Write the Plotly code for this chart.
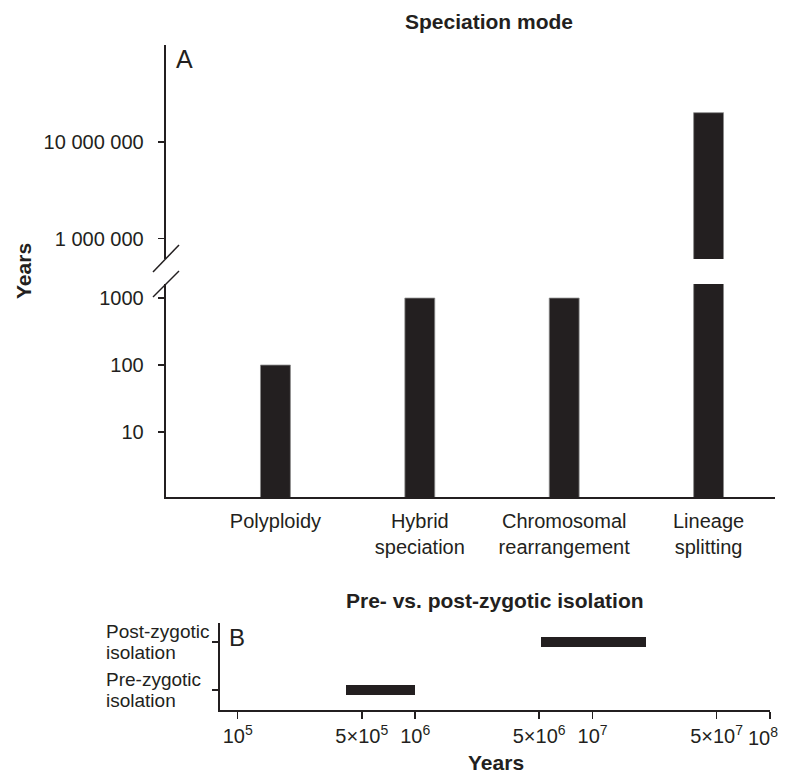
import math
import plotly.graph_objects as go

# ---- data ----
modes = ["Polyploidy", "Hybrid<br>speciation", "Chromosomal<br>rearrangement", "Lineage<br>splitting"]
mode_years = [100, 1000, 1000, 2.0e7]

upper_ticks = [1e6, 1e7]
upper_ticktext = ["1 000 000", "10 000 000"]
lower_ticks = [10, 100, 1000]
lower_ticktext = ["10", "100", "1000"]

isolation = ["Pre-zygotic<br>isolation", "Post-zygotic<br>isolation"]
iso_start = [4.1e5, 5.1e6]
iso_end = [1.0e6, 2.0e7]

b_ticks = [1e5, 5e5, 1e6, 5e6, 1e7, 5e7, 1e8]
b_ticktext = ["10<sup>5</sup>", "5×10<sup>5</sup>", "10<sup>6</sup>", "5×10<sup>6</sup>",
              "10<sup>7</sup>", "5×10<sup>7</sup>", "10<sup>8</sup>"]

# ---- layout helpers ----
# the page keeps the browser's default 8px body margin, so the figure is
# 16px smaller than the window and page coordinates are offset by 8px
OFF = 8
W, H = 788 - 2 * OFF, 778 - 2 * OFF
INK = "#231f20"
FONT = "Liberation Sans, Arial, Helvetica, sans-serif"

def px(x):
    return (x - OFF) / W

def py(y):
    return 1 - (y - OFF) / H

xpos = list(range(len(modes)))

fig = go.Figure()
bar_style = dict(marker=dict(color=INK, line=dict(color="#8a8a8a", width=0.8)),
                 width=0.207, showlegend=False, hoverinfo="skip")
# lower segment of panel A
fig.add_trace(go.Bar(x=xpos, y=mode_years, xaxis="x", yaxis="y", **bar_style))
# upper segment of panel A
fig.add_trace(go.Bar(x=xpos, y=mode_years, xaxis="x2", yaxis="y2", **bar_style))
# panel B
fig.add_trace(go.Bar(
    y=[0, 1], x=[e - s for s, e in zip(iso_start, iso_end)], base=iso_start,
    orientation="h", xaxis="x3", yaxis="y3", width=0.21,
    marker=dict(color=INK, line=dict(width=0)), showlegend=False, hoverinfo="skip"))

axis_common = dict(showline=True, linecolor=INK, linewidth=2, showgrid=False,
                   zeroline=False, tickcolor=INK, tickwidth=1.5,
                   tickfont=dict(size=20, color=INK, family=FONT))

# last tick label of panel B sits at the page edge: drawn as an annotation
b_ticktext_axis = b_ticktext[:-1] + [""]

xdomA = [px(165.7), px(775)]
fig.update_layout(
    width=W, height=H, autosize=False, margin=dict(l=0, r=0, t=0, b=0),
    paper_bgcolor="white", plot_bgcolor="white",
    font=dict(family=FONT, color=INK),
    bargap=0,
    xaxis=dict(domain=xdomA, anchor="y", range=[-0.76, 3.46], tickvals=xpos,
               ticktext=modes, ticks="", ticklabelstandoff=5, **axis_common),
    yaxis=dict(domain=[py(497), py(284)], anchor="x", type="log", range=[0.03, 3.21],
               tickvals=lower_ticks, ticktext=lower_ticktext, ticks="outside",
               ticklen=6, ticklabelstandoff=10, **axis_common),
    xaxis2=dict(domain=xdomA, anchor="y2", matches="x", visible=False,
                range=[-0.76, 3.46]),
    yaxis2=dict(domain=[py(259), py(45)], anchor="x2", type="log", range=[5.79, 8.0],
                tickvals=upper_ticks, ticktext=upper_ticktext, ticks="outside",
                ticklen=6, ticklabelstandoff=10, **axis_common),
    xaxis3=dict(domain=[px(220), px(770)], anchor="y3", type="log", range=[4.9, 8.0],
                tickvals=b_ticks, ticktext=b_ticktext_axis, ticks="outside", ticklen=7,
                **axis_common),
    yaxis3=dict(domain=[py(710), py(623)], anchor="x3", range=[-0.42, 1.4],
                tickvals=[0, 1], showticklabels=False, ticks="outside", ticklen=6,
                **axis_common),
)

fig.add_annotation(text=b_ticktext[-1], xref="x3", x=math.log10(b_ticks[-1]),
                   yref="paper", y=py(736), xanchor="right", xshift=10,
                   yanchor="middle", showarrow=False,
                   font=dict(size=20, color=INK, family=FONT))

# axis-break slashes
for (x0, y0, x1, y1) in [(153, 272, 179, 245), (153, 297, 179, 271)]:
    fig.add_shape(type="line", xref="paper", yref="paper",
                  x0=px(x0), y0=py(y0), x1=px(x1), y1=py(y1),
                  line=dict(color=INK, width=1.5))

ann = []
ann.append(dict(text="<b>Speciation mode</b>", x=px(489), y=py(21), font=dict(size=21)))
ann.append(dict(text="<b>Pre- vs. post-zygotic isolation</b>", x=px(495), y=py(600),
                font=dict(size=21)))
ann.append(dict(text="<b>Years</b>", x=px(23), y=py(271), textangle=-90, font=dict(size=21)))
ann.append(dict(text="<b>Years</b>", x=px(496), y=py(762), font=dict(size=21)))
ann.append(dict(text="A", x=px(174), y=py(59), xanchor="left", font=dict(size=25)))
ann.append(dict(text="B", x=px(227), y=py(637), xanchor="left", font=dict(size=24)))
for a in ann:
    a.setdefault("xanchor", "center")
    a.update(xref="paper", yref="paper", yanchor="middle", showarrow=False)
    a["font"].update(color=INK, family=FONT)
    fig.add_annotation(**a)

for i, lab in enumerate(isolation):
    lines = lab.split("<br>")
    for k, line in enumerate(lines):
        shift = (len(lines) - 1) / 2 * 21.5 - k * 21.5
        fig.add_annotation(text=line, xref="paper", yref="y3", x=px(104), y=i,
                           yshift=shift, xanchor="left", yanchor="middle", align="left",
                           showarrow=False, font=dict(size=19, color=INK, family=FONT))

fig.write_html("out.html", config={"displayModeBar": False, "staticPlot": True})
